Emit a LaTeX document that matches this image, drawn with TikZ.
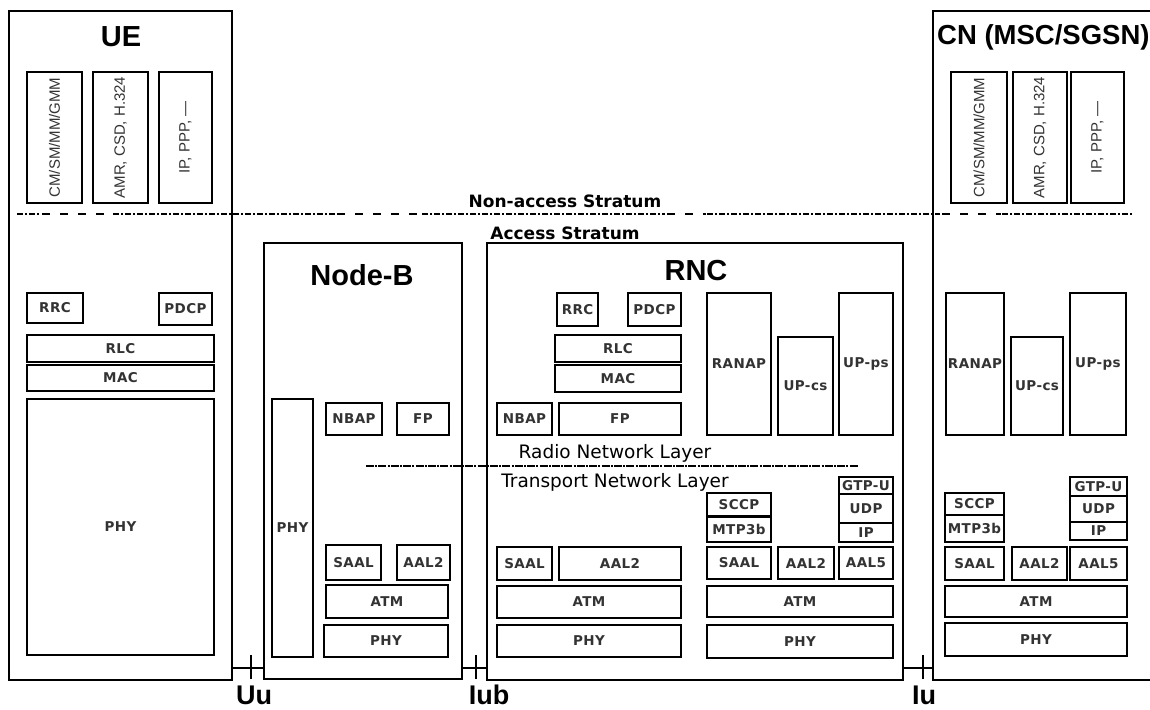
\documentclass[tikz,border=0pt]{standalone}
\usepackage{fontspec}
\usepackage{graphicx}
\setmainfont{Liberation Sans}
\newfontfamily\lblfont[LetterSpace=3]{DejaVu Sans}
\newfontfamily\widefont{DejaVu Sans}
\begin{document}
\begin{tikzpicture}[x=1pt,y=-1pt,
  blk/.style={draw,line width=1.4pt,inner sep=0pt,
    font=\lblfont\bfseries\fontsize{13.5}{13.5}\selectfont,text=black!80},
  outer/.style={draw,line width=1.4pt,inner sep=0pt},
  vlbl/.style={blk,font=\fontsize{15}{15}\selectfont,text=black!80},
  title/.style={font=\bfseries\fontsize{29}{29}\selectfont},
  iface/.style={font=\bfseries\fontsize{27}{27}\selectfont,inner sep=0pt,anchor=base},
  stratum/.style={font=\widefont\bfseries\fontsize{17}{17}\selectfont},
  layer/.style={font=\widefont\fontsize{18.5}{18.5}\selectfont},
  dense/.style={line width=1.3pt,dash pattern=on 6pt off 2pt on 2pt off 2pt},
  sparse/.style={line width=1.3pt,dash pattern=on 8pt off 10pt},
  tick/.style={line width=1.4pt}]
\newcommand\blk[7][blk]{%
  \node[#1,minimum width={(#5-#3)*1pt},minimum height={(#6-#4)*1pt}]
    (#2) at ({(#3+#5)/2},{(#4+#6)/2}) {#7};}
\useasboundingbox (0,0) rectangle (1150,709);
\clip (0,0) rectangle (1150,709);
\fill[white] (0,0) rectangle (1150,709);

% ---------- outer entities ----------
\blk[outer]{ue}{9}{11}{232}{680}{}
\blk[outer]{nodeb}{264}{243}{462}{679}{}
\blk[outer]{rnc}{487}{243}{903}{680}{}
\blk[outer]{cn}{933}{11}{1165}{680}{}

\node[title] (ueT) at (121,37) {UE};
\node[title] (nbT) at (362,275) {Node-B};
\node[title] (rncT) at (696,271) {RNC};
\node[title,font=\bfseries\fontsize{27.5}{27.5}\selectfont,anchor=west,inner sep=0pt]
  (cnT) at (937,37) {CN (MSC/SGSN)};

% ---------- non-access stratum protocols ----------
\blk[vlbl]{ueN1}{27}{72}{82}{203}{\rotatebox{90}{CM/SM/MM/GMM}}
\blk[vlbl]{ueN2}{93}{72}{148}{203}{\rotatebox{90}{AMR, CSD, H.324}}
\blk[vlbl]{ueN3}{159}{72}{212}{203}{\rotatebox{90}{IP, PPP, ---}}
\blk[vlbl]{cnN1}{951}{72}{1007}{203}{\rotatebox{90}{CM/SM/MM/GMM}}
\blk[vlbl]{cnN2}{1013}{72}{1067}{203}{\rotatebox{90}{AMR, CSD, H.324}}
\blk[vlbl]{cnN3}{1071}{72}{1124}{203}{\rotatebox{90}{IP, PPP, ---}}

% ---------- stratum boundary ----------
\coordinate (nasL) at (17,214);
\coordinate (nasR) at (1132,214);
\draw[dense] (nasL) -- (40,214);
\draw[sparse] (42,214) -- (112,214);
\draw[dense] (113,214) -- (335,214);
\draw[sparse] (337,214) -- (420,214);
\draw[dense] (422,214) -- (665,214);
\draw[sparse] (667,214) -- (706,214);
\draw[dense] (707,214) -- (940,214);
\draw[sparse] (942,214) -- (1001,214);
\draw[dense] (1002,214) -- (nasR);
\node[stratum] (nasT) at (565,201) {Non-access Stratum};
\node[stratum] (asT) at (565,233) {Access Stratum};

% ---------- UE access stratum ----------
\blk{ueRRC}{27}{293}{83}{323}{RRC}
\blk{uePDCP}{159}{293}{212}{325}{PDCP}
\blk{ueRLC}{27}{335}{214}{362}{RLC}
\blk{ueMAC}{27}{365}{214}{391}{MAC}
\blk{uePHY}{27}{399}{214}{655}{PHY}

% ---------- Node-B ----------
\blk{nbPHYr}{272}{399}{313}{657}{PHY}
\blk{nbNBAP}{326}{403}{382}{435}{NBAP}
\blk{nbFP}{397}{403}{449}{435}{FP}
\blk{nbSAAL}{326}{545}{381}{580}{SAAL}
\blk{nbAAL2}{397}{545}{450}{580}{AAL2}
\blk{nbATM}{326}{585}{448}{618}{ATM}
\blk{nbPHY}{324}{625}{448}{657}{PHY}

% ---------- RNC ----------
\blk{rncRRC}{557}{293}{598}{326}{RRC}
\blk{rncPDCP}{628}{293}{681}{326}{PDCP}
\blk{rncRLC}{555}{335}{681}{362}{RLC}
\blk{rncMAC}{555}{365}{681}{392}{MAC}
\blk{rncNBAP}{497}{403}{552}{435}{NBAP}
\blk{rncFP}{559}{403}{681}{435}{FP}
\blk{rncRANAP}{707}{293}{771}{435}{RANAP}
\blk{rncUPcs}{778}{337}{833}{435}{UP-cs}
\blk{rncUPps}{839}{293}{893}{435}{UP-ps}
\blk{rncSAALb}{497}{547}{552}{580}{SAAL}
\blk{rncAAL2b}{559}{547}{681}{580}{AAL2}
\blk{rncATMb}{497}{586}{681}{618}{ATM}
\blk{rncPHYb}{497}{625}{681}{657}{PHY}
\blk{rncSCCP}{707}{493}{771}{516}{SCCP}
\blk{rncMTP}{707}{517}{771}{542}{MTP3b}
\blk{rncGTP}{839}{477}{893}{494}{GTP-U}
\blk{rncUDP}{839}{494}{893}{523}{UDP}
\blk{rncIP}{839}{523}{893}{542}{IP}
\blk{rncSAAL}{707}{547}{771}{579}{SAAL}
\blk{rncAAL2}{778}{547}{834}{579}{AAL2}
\blk{rncAAL5}{839}{547}{893}{579}{AAL5}
\blk{rncATM}{707}{586}{893}{617}{ATM}
\blk{rncPHY}{707}{625}{893}{658}{PHY}

% ---------- CN ----------
\blk{cnRANAP}{946}{293}{1004}{435}{RANAP}
\blk{cnUPcs}{1011}{337}{1063}{435}{UP-cs}
\blk{cnUPps}{1070}{293}{1126}{435}{UP-ps}
\blk{cnSCCP}{945}{493}{1004}{515}{SCCP}
\blk{cnMTP}{945}{515}{1004}{542}{MTP3b}
\blk{cnGTP}{1070}{477}{1127}{496}{GTP-U}
\blk{cnUDP}{1070}{496}{1127}{522}{UDP}
\blk{cnIP}{1070}{522}{1127}{540}{IP}
\blk{cnSAAL}{945}{547}{1004}{580}{SAAL}
\blk{cnAAL2}{1012}{547}{1067}{580}{AAL2}
\blk{cnAAL5}{1070}{547}{1127}{580}{AAL5}
\blk{cnATM}{945}{586}{1127}{617}{ATM}
\blk{cnPHY}{945}{623}{1127}{656}{PHY}

% ---------- radio / transport network layer ----------
\coordinate (rnlL) at (366,466);
\coordinate (rnlR) at (858,466);
\draw[line width=2.4pt,dash pattern=on 8pt off 1.2pt on 2pt off 1.2pt] (rnlL) -- (rnlR);
\node[layer] (rnlT) at (615,453) {Radio Network Layer};
\node[layer] (tnlT) at (615,482) {Transport Network Layer};

% ---------- interfaces ----------
\coordinate (uu) at (251,668);
\coordinate (iub) at (476,668);
\coordinate (iu) at (923,668);
\draw[tick] (ue.east |- uu) -- (nodeb.west |- uu);
\draw[tick] ([yshift=-11pt]uu) -- ([yshift=13pt]uu);
\draw[tick] (nodeb.east |- iub) -- (rnc.west |- iub);
\draw[tick] ([yshift=-11pt]iub) -- ([yshift=13pt]iub);
\draw[tick] (rnc.east |- iu) -- (cn.west |- iu);
\draw[tick] ([yshift=-11pt]iu) -- ([yshift=13pt]iu);
\node[iface] (uuT) at (254,704) {Uu};
\node[iface] (iubT) at (489,704) {Iub};
\node[iface] (iuT) at (924,704) {Iu};
\end{tikzpicture}
\end{document}
